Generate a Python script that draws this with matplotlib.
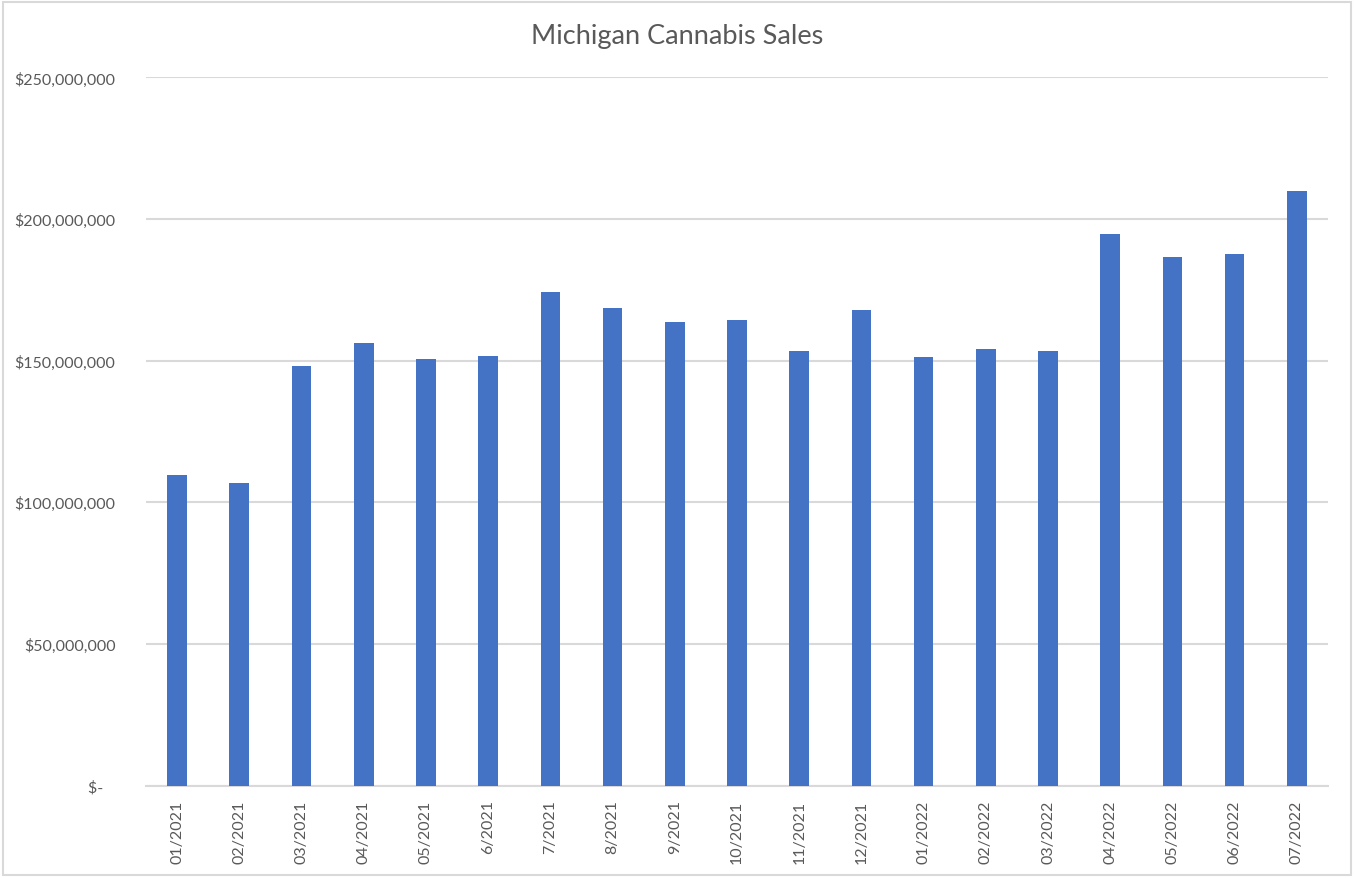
import matplotlib
matplotlib.use('agg')
from matplotlib import pyplot as plt
from matplotlib.patches import Rectangle
from matplotlib.ticker import FuncFormatter

plt.rcParams['font.family'] = ['Lato', 'DejaVu Sans']

months = ['01/2021', '02/2021', '03/2021', '04/2021', '05/2021', '6/2021',
          '7/2021', '8/2021', '9/2021', '10/2021', '11/2021', '12/2021',
          '01/2022', '02/2022', '03/2022', '04/2022', '05/2022', '06/2022',
          '07/2022']
sales = [109.7e6, 106.9e6, 148.2e6, 156.4e6, 150.7e6, 151.8e6,
         174.4e6, 168.7e6, 163.8e6, 164.5e6, 153.5e6, 168.0e6,
         151.4e6, 154.2e6, 153.5e6, 194.8e6, 186.5e6, 187.6e6,
         210.0e6]
y_ticks = [0, 50e6, 100e6, 150e6, 200e6, 250e6]

text_gray = '#595959'
grid_gray = '#d9d9d9'


def dollars(v, pos):
    if v == 0:
        return '$-   '
    return '${:,.0f}'.format(v)


fig = plt.figure(figsize=(13.54, 8.79), dpi=100)
ax = fig.add_axes([0.1078, 0.1052, 0.873, 0.8055])

x = list(range(len(months)))
ax.bar(x, sales, width=0.315, color='#4472C4', zorder=3)

ax.set_xlim(-0.5, len(months) - 0.5)
ax.set_ylim(0, 250e6)
ax.set_yticks(y_ticks)
ax.yaxis.set_major_formatter(FuncFormatter(dollars))
ax.set_xticks(x)
ax.set_xticklabels(months, rotation=90)

ax.grid(axis='y', color=grid_gray, linewidth=1.5, zorder=0)
for side in ['top', 'right', 'left']:
    ax.spines[side].set_visible(False)
ax.spines['bottom'].set_color(grid_gray)
ax.spines['bottom'].set_linewidth(1.5)
ax.tick_params(axis='both', length=0, colors=text_gray, labelsize=11.5)
ax.tick_params(axis='y', pad=22)
ax.tick_params(axis='x', pad=10)

fig.text(0.5, 0.959, 'Michigan Cannabis Sales', ha='center', va='center',
         fontsize=19.5, color=text_gray)

fig.patches.append(Rectangle((0.002, 0.003), 0.996, 0.994, transform=fig.transFigure,
                             fill=False, edgecolor=grid_gray, linewidth=1.5))

fig.savefig('out.png', dpi=100)
plt.close(fig)
